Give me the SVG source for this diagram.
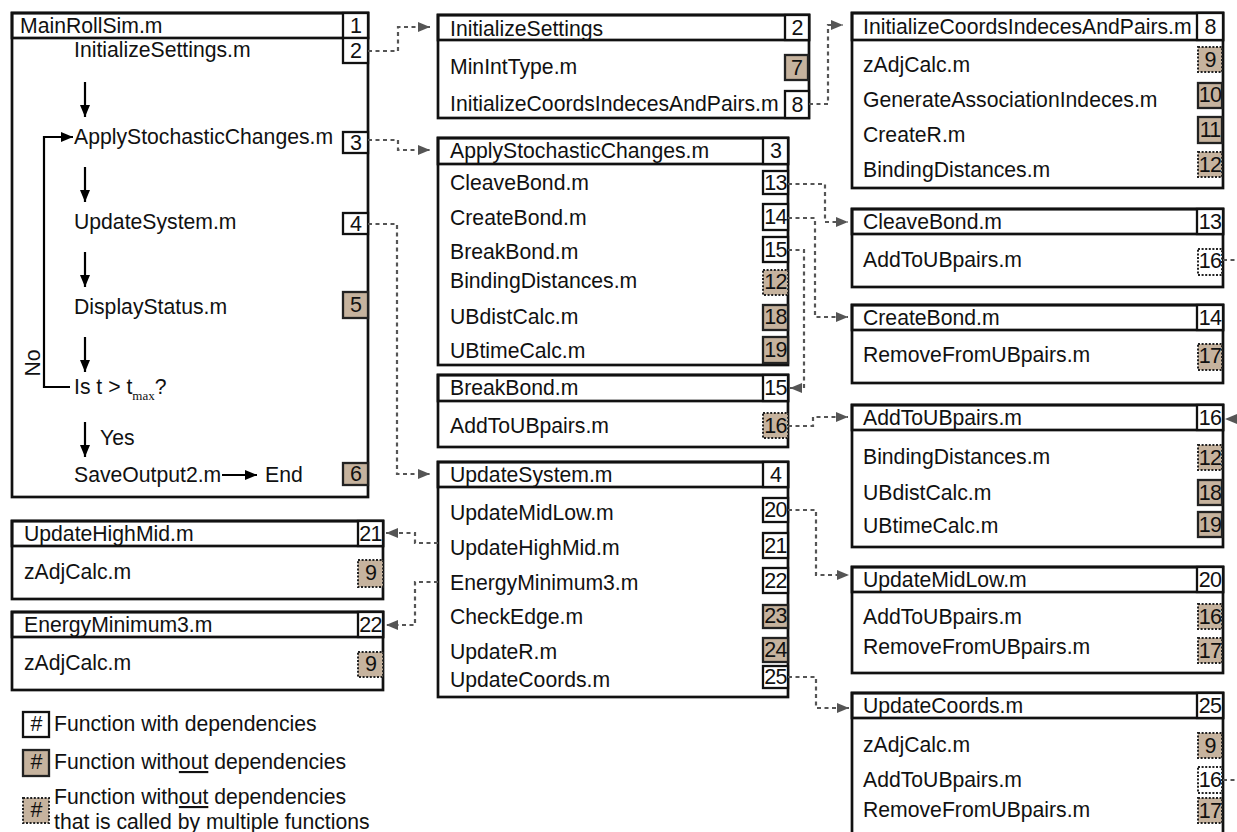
<svg xmlns="http://www.w3.org/2000/svg" width="1237" height="832" viewBox="0 0 1237 832">
<defs>
<style>
text{font-family:"Liberation Sans",Arial,sans-serif;fill:#111}
.t{font-size:21.2px}
.n{font-size:21.5px;text-anchor:middle;letter-spacing:-0.8px}
.lg{font-size:21.2px}
.frame{fill:#fff;stroke:#111;stroke-width:2.7}
.bar{fill:none;stroke:#111;stroke-width:2.7}
.nb{fill:#fff;stroke:#111;stroke-width:2.3}
.tan{fill:#c6b39e;stroke:#222;stroke-width:2.3}
.dtan{fill:#c6b39e;stroke:#222;stroke-width:2;stroke-dasharray:2 1.6}
.dwh{fill:#fff;stroke:#222;stroke-width:2;stroke-dasharray:2 1.6}
.dash{fill:none;stroke:#555;stroke-width:2.2;stroke-dasharray:4 3.5}
.flow{fill:none;stroke:#000;stroke-width:2.2}
</style>
<marker id="ga" viewBox="0 0 12 10" refX="12" refY="5" markerWidth="12" markerHeight="10" markerUnits="userSpaceOnUse" orient="auto">
<path d="M0,0 L12,5 L0,10 Z" fill="#555"/>
</marker>
<marker id="ba" viewBox="0 0 12 10" refX="12" refY="5" markerWidth="12" markerHeight="10" markerUnits="userSpaceOnUse" orient="auto">
<path d="M0,0 L12,5 L0,10 Z" fill="#000"/>
</marker>
</defs>
<rect width="1237" height="832" fill="#fff"/>

<!-- Main box -->
<g id="main">
<rect class="frame" x="12" y="13" width="356" height="484"/>
<rect class="bar" x="12" y="13" width="356" height="25"/>
<rect class="nb" x="343" y="13" width="25" height="25"/>
<text class="t" x="20" y="33">MainRollSim.m</text>
<text class="n" x="355.5" y="33">1</text>
<text class="t" x="74" y="57">InitializeSettings.m</text>
<rect class="nb" x="343" y="38" width="25" height="25"/>
<text class="n" x="355.5" y="58">2</text>
<text class="t" x="74" y="144">ApplyStochasticChanges.m</text>
<rect class="nb" x="343" y="132" width="25" height="21"/>
<text class="n" x="355.5" y="150">3</text>
<text class="t" x="74" y="229">UpdateSystem.m</text>
<rect class="nb" x="343" y="213" width="25" height="21"/>
<text class="n" x="355.5" y="231">4</text>
<text class="t" x="74" y="314">DisplayStatus.m</text>
<rect class="tan" x="343" y="292" width="25" height="26"/>
<text class="n" x="355.5" y="312">5</text>
<text class="t" x="74" y="394">Is t &gt; t<tspan font-family="Liberation Serif,serif" font-size="13" dy="6">max</tspan><tspan dy="-6">?</tspan></text>
<text class="t" x="100" y="445">Yes</text>
<text class="t" x="74" y="482">SaveOutput2.m</text>
<text class="t" x="265" y="482">End</text>
<rect class="tan" x="343" y="463" width="25" height="22"/>
<text class="n" x="355.5" y="481">6</text>
<text class="t" transform="translate(40,363) rotate(-90)" text-anchor="middle">No</text>
<path class="flow" d="M85,82 V117" marker-end="url(#ba)"/>
<path class="flow" d="M85,167 V202" marker-end="url(#ba)"/>
<path class="flow" d="M85,252 V287" marker-end="url(#ba)"/>
<path class="flow" d="M85,337 V372" marker-end="url(#ba)"/>
<path class="flow" d="M85,422 V457" marker-end="url(#ba)"/>
<path class="flow" d="M70,387 H44 V137 H73" marker-end="url(#ba)"/>
<path class="flow" d="M222,475 H257" marker-end="url(#ba)"/>
</g>

<!-- InitializeSettings -->
<g id="initSettings">
<rect class="frame" x="438" y="15" width="371" height="103"/>
<rect class="bar" x="438" y="15" width="371" height="25"/>
<rect class="nb" x="785" y="15" width="24" height="25"/>
<text class="t" x="450" y="36">InitializeSettings</text>
<text class="n" x="797" y="35">2</text>
<text class="t" x="450" y="74">MinIntType.m</text>
<rect class="tan" x="785" y="55" width="23" height="25"/>
<text class="n" x="796.5" y="75">7</text>
<text class="t" x="450" y="111">InitializeCoordsIndecesAndPairs.m</text>
<rect class="nb" x="785" y="91" width="24" height="27"/>
<text class="n" x="797" y="112">8</text>
</g>

<!-- ApplyStochasticChanges -->
<g id="applyStoch">
<rect class="frame" x="438" y="138" width="350" height="227"/>
<rect class="bar" x="438" y="138" width="350" height="26"/>
<rect class="nb" x="763" y="138" width="25" height="26"/>
<text class="t" x="450" y="158">ApplyStochasticChanges.m</text>
<text class="n" x="775.5" y="158">3</text>
<text class="t" x="450" y="190">CleaveBond.m</text>
<rect class="nb" x="763" y="171" width="25" height="23"/>
<text class="n" x="775.5" y="190">13</text>
<text class="t" x="450" y="225">CreateBond.m</text>
<rect class="nb" x="763" y="204" width="25" height="26"/>
<text class="n" x="775.5" y="224">14</text>
<text class="t" x="450" y="259">BreakBond.m</text>
<rect class="nb" x="763" y="237" width="25" height="25"/>
<text class="n" x="775.5" y="257">15</text>
<text class="t" x="450" y="288">BindingDistances.m</text>
<rect class="dtan" x="763" y="270" width="25" height="25"/>
<text class="n" x="775.5" y="289">12</text>
<text class="t" x="450" y="324">UBdistCalc.m</text>
<rect class="tan" x="763" y="305" width="25" height="25"/>
<text class="n" x="775.5" y="324">18</text>
<text class="t" x="450" y="358">UBtimeCalc.m</text>
<rect class="tan" x="763" y="337" width="25" height="26"/>
<text class="n" x="775.5" y="357">19</text>
</g>

<!-- BreakBond -->
<g id="breakBond">
<rect class="frame" x="438" y="375" width="350" height="72"/>
<rect class="bar" x="438" y="375" width="350" height="26"/>
<rect class="nb" x="763" y="375" width="25" height="26"/>
<text class="t" x="450" y="395">BreakBond.m</text>
<text class="n" x="775.5" y="395">15</text>
<text class="t" x="450" y="433">AddToUBpairs.m</text>
<rect class="dtan" x="763" y="413" width="25" height="25"/>
<text class="n" x="775.5" y="433">16</text>
</g>

<!-- UpdateSystem -->
<g id="updateSystem">
<rect class="frame" x="438" y="462" width="350" height="235"/>
<rect class="bar" x="438" y="462" width="350" height="25"/>
<rect class="nb" x="763" y="462" width="25" height="25"/>
<text class="t" x="450" y="482">UpdateSystem.m</text>
<text class="n" x="775.5" y="482">4</text>
<text class="t" x="450" y="520">UpdateMidLow.m</text>
<rect class="nb" x="763" y="498" width="25" height="24"/>
<text class="n" x="775.5" y="517">20</text>
<text class="t" x="450" y="555">UpdateHighMid.m</text>
<rect class="nb" x="763" y="533" width="25" height="25"/>
<text class="n" x="775.5" y="553">21</text>
<text class="t" x="450" y="590">EnergyMinimum3.m</text>
<rect class="nb" x="763" y="568" width="25" height="25"/>
<text class="n" x="775.5" y="588">22</text>
<text class="t" x="450" y="624">CheckEdge.m</text>
<rect class="tan" x="763" y="605" width="25" height="23"/>
<text class="n" x="775.5" y="623">23</text>
<text class="t" x="450" y="659">UpdateR.m</text>
<rect class="tan" x="763" y="638" width="25" height="24"/>
<text class="n" x="775.5" y="657">24</text>
<text class="t" x="450" y="687">UpdateCoords.m</text>
<rect class="nb" x="763" y="666" width="25" height="22"/>
<text class="n" x="775.5" y="684">25</text>
</g>

<!-- UpdateHighMid (left) -->
<g id="updateHighMid">
<rect class="frame" x="12" y="521" width="371" height="78"/>
<rect class="bar" x="12" y="521" width="371" height="25"/>
<rect class="nb" x="358" y="521" width="25" height="25"/>
<text class="t" x="24" y="541">UpdateHighMid.m</text>
<text class="n" x="370.5" y="541">21</text>
<text class="t" x="24" y="579">zAdjCalc.m</text>
<rect class="dtan" x="358" y="560" width="25" height="27"/>
<text class="n" x="370.5" y="580">9</text>
</g>

<!-- EnergyMinimum3 (left) -->
<g id="energyMin">
<rect class="frame" x="12" y="612" width="371" height="78"/>
<rect class="bar" x="12" y="612" width="371" height="25"/>
<rect class="nb" x="358" y="612" width="25" height="25"/>
<text class="t" x="24" y="632">EnergyMinimum3.m</text>
<text class="n" x="370.5" y="632">22</text>
<text class="t" x="24" y="670">zAdjCalc.m</text>
<rect class="dtan" x="358" y="652" width="25" height="25"/>
<text class="n" x="370.5" y="671">9</text>
</g>

<!-- Legend -->
<g id="legend">
<rect class="nb" x="23" y="712" width="26" height="25"/>
<text class="n" x="36" y="731">#</text>
<text class="lg" x="54" y="731">Function with dependencies</text>
<rect class="tan" x="23" y="750" width="26" height="26"/>
<text class="n" x="36" y="769">#</text>
<text class="lg" x="54" y="769">Function with<tspan text-decoration="underline">out</tspan> dependencies</text>
<rect class="dtan" x="23" y="798" width="26" height="25"/>
<text class="n" x="36" y="817">#</text>
<text class="lg" x="54" y="804">Function with<tspan text-decoration="underline">out</tspan> dependencies</text>
<text class="lg" x="54" y="829">that is called by multiple functions</text>
</g>

<!-- InitializeCoordsIndecesAndPairs -->
<g id="initCoords">
<rect class="frame" x="852" y="13" width="371" height="175"/>
<rect class="bar" x="852" y="13" width="371" height="27"/>
<rect class="nb" x="1197" y="13" width="26" height="27"/>
<text class="t" x="863" y="34">InitializeCoordsIndecesAndPairs.m</text>
<text class="n" x="1210" y="34">8</text>
<text class="t" x="863" y="72">zAdjCalc.m</text>
<rect class="dtan" x="1198" y="47" width="24" height="25"/>
<text class="n" x="1210" y="67">9</text>
<text class="t" x="863" y="107">GenerateAssociationIndeces.m</text>
<rect class="tan" x="1198" y="83" width="24" height="25"/>
<text class="n" x="1210" y="102">10</text>
<text class="t" x="863" y="142">CreateR.m</text>
<rect class="tan" x="1198" y="117" width="24" height="26"/>
<text class="n" x="1210" y="137">11</text>
<text class="t" x="863" y="177">BindingDistances.m</text>
<rect class="dtan" x="1198" y="152" width="24" height="25"/>
<text class="n" x="1210" y="172">12</text>
</g>

<!-- CleaveBond -->
<g id="cleaveBond">
<rect class="frame" x="852" y="209" width="371" height="78"/>
<rect class="bar" x="852" y="209" width="371" height="25"/>
<rect class="nb" x="1197" y="209" width="26" height="25"/>
<text class="t" x="863" y="229">CleaveBond.m</text>
<text class="n" x="1210" y="229">13</text>
<text class="t" x="863" y="267">AddToUBpairs.m</text>
<rect class="dwh" x="1198" y="249" width="24" height="26"/>
<text class="n" x="1210" y="268">16</text>
</g>

<!-- CreateBond -->
<g id="createBond">
<rect class="frame" x="852" y="305" width="371" height="78"/>
<rect class="bar" x="852" y="305" width="371" height="25"/>
<rect class="nb" x="1197" y="305" width="26" height="25"/>
<text class="t" x="863" y="325">CreateBond.m</text>
<text class="n" x="1210" y="325">14</text>
<text class="t" x="863" y="362">RemoveFromUBpairs.m</text>
<rect class="dtan" x="1198" y="344" width="24" height="26"/>
<text class="n" x="1210" y="363">17</text>
</g>

<!-- AddToUBpairs -->
<g id="addToUB">
<rect class="frame" x="852" y="405" width="371" height="142"/>
<rect class="bar" x="852" y="405" width="371" height="25"/>
<rect class="nb" x="1197" y="405" width="26" height="25"/>
<text class="t" x="863" y="425">AddToUBpairs.m</text>
<text class="n" x="1210" y="425">16</text>
<text class="t" x="863" y="464">BindingDistances.m</text>
<rect class="dtan" x="1198" y="445" width="24" height="25"/>
<text class="n" x="1210" y="465">12</text>
<text class="t" x="863" y="500">UBdistCalc.m</text>
<rect class="tan" x="1198" y="480" width="24" height="25"/>
<text class="n" x="1210" y="500">18</text>
<text class="t" x="863" y="533">UBtimeCalc.m</text>
<rect class="tan" x="1198" y="512" width="24" height="25"/>
<text class="n" x="1210" y="532">19</text>
</g>

<!-- UpdateMidLow -->
<g id="updateMidLow">
<rect class="frame" x="852" y="567" width="371" height="106"/>
<rect class="bar" x="852" y="567" width="371" height="25"/>
<rect class="nb" x="1197" y="567" width="26" height="25"/>
<text class="t" x="863" y="587">UpdateMidLow.m</text>
<text class="n" x="1210" y="587">20</text>
<text class="t" x="863" y="624">AddToUBpairs.m</text>
<rect class="dtan" x="1198" y="604" width="24" height="25"/>
<text class="n" x="1210" y="624">16</text>
<text class="t" x="863" y="654">RemoveFromUBpairs.m</text>
<rect class="dtan" x="1198" y="638" width="24" height="25"/>
<text class="n" x="1210" y="658">17</text>
</g>

<!-- UpdateCoords -->
<g id="updateCoords">
<rect class="frame" x="852" y="693" width="371" height="150"/>
<rect class="bar" x="852" y="693" width="371" height="25"/>
<rect class="nb" x="1197" y="693" width="26" height="25"/>
<text class="t" x="863" y="713">UpdateCoords.m</text>
<text class="n" x="1210" y="713">25</text>
<text class="t" x="863" y="752">zAdjCalc.m</text>
<rect class="dtan" x="1198" y="733" width="24" height="25"/>
<text class="n" x="1210" y="753">9</text>
<text class="t" x="863" y="787">AddToUBpairs.m</text>
<rect class="dwh" x="1198" y="767" width="24" height="26"/>
<text class="n" x="1210" y="787">16</text>
<text class="t" x="863" y="817">RemoveFromUBpairs.m</text>
<rect class="dtan" x="1198" y="798" width="24" height="25"/>
<text class="n" x="1210" y="818">17</text>
</g>

<!-- Connectors -->
<g id="connectors">
<path class="dash" d="M368,51 H398 V27 H430" marker-end="url(#ga)"/>
<path class="dash" d="M368,140 H398 V150 H430" marker-end="url(#ga)"/>
<path class="dash" d="M368,224 H397 V474 H430" marker-end="url(#ga)"/>
<path class="dash" d="M809,104 H828 V25 H843" marker-end="url(#ga)"/>
<path class="dash" d="M788,184 H825 V222 H848" marker-end="url(#ga)"/>
<path class="dash" d="M788,218 H815 V317 H848" marker-end="url(#ga)"/>
<path class="dash" d="M788,250 H804 V388 H790" marker-end="url(#ga)"/>
<path class="dash" d="M788,426 H813 V417 H848" marker-end="url(#ga)"/>
<path class="dash" d="M788,510 H816 V575 H849" marker-end="url(#ga)"/>
<path class="dash" d="M788,677 H816 V708 H849" marker-end="url(#ga)"/>
<path class="dash" d="M438,543 H415 V533 H386" marker-end="url(#ga)"/>
<path class="dash" d="M438,582 H415 V625 H386" marker-end="url(#ga)"/>
<path class="dash" d="M1223,260 H1237"/>
<path class="dash" d="M1223,780 H1237"/>
<path class="dash" d="M1240,419 H1225" marker-end="url(#ga)"/>
</g>
</svg>
